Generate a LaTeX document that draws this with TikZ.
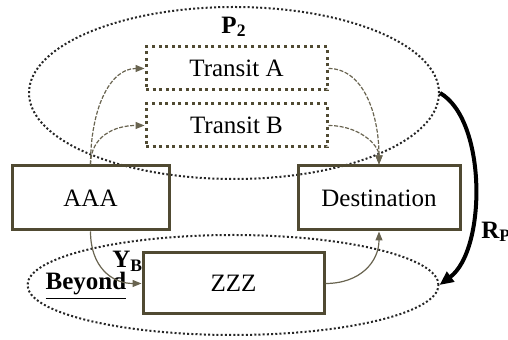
\documentclass[tikz,border=0pt]{standalone}
\usepackage{fontspec}
\setmainfont{Liberation Serif}
\usetikzlibrary{arrows.meta,shapes.geometric}
\definecolor{boxline}{RGB}{80,74,50}
\definecolor{linkc}{RGB}{105,100,80}
\begin{document}
\begin{tikzpicture}[x=0.5pt,y=-0.5pt,
  font=\fontsize{12.5}{15}\selectfont,
  box/.style={draw=boxline, line width=1.5pt, inner sep=0pt, minimum height=32pt},
  transit/.style={draw=boxline, line width=1.5pt, dash pattern=on 1.5pt off 1.8pt,
    minimum width=90.5pt, minimum height=21.5pt, inner sep=0pt},
  region/.style={ellipse, draw=black!85, line width=1pt, dash pattern=on 1pt off 1.1pt, inner sep=0pt},
  link/.style={draw=linkc, line width=0.6pt, -{Triangle[length=4.5pt,width=3.5pt]}},
  linkd/.style={link, dash pattern=on 2pt off 0.8pt},
  flow/.style={draw=black, line width=2pt, -{Triangle[length=7pt,width=6pt]}},
  lab/.style={inner sep=0pt, font=\fontsize{12.5}{15}\selectfont\bfseries}]
\useasboundingbox (0,0) rectangle (508,340);

% the two regions
\node[region, minimum width=205pt, minimum height=86pt] (top) at (234,93) {};
\node[region, minimum width=205.5pt, minimum height=50pt] (bot) at (233,285) {};

% boxes
\node[box, minimum width=78.5pt] (aaa) at (90.5,198) {AAA};
\node[box, minimum width=81pt] (dst) at (379,198) {Destination};
\node[box, minimum width=90.5pt, minimum height=30.5pt] (zzz) at (233.5,283.5) {ZZZ};
\node[transit] (ta) at (236.5,68.5) {Transit A};
\node[transit] (tb) at (236.5,125.5) {Transit B};

% labels
\node[lab] (p2) at (234,27) {P\textsubscript{2}};
\node[lab, anchor=base west] (yb) at (112,268) {Y\textsubscript{B}};
\node[lab, anchor=base] (beyond) at (86,290) {\underline{Beyond}};
\node[lab, anchor=west] (rp) at (481,232) {R\textsubscript{P}};

% connectors
\draw[linkd] (aaa.north) .. controls +(0,-55) and +(-35,0) .. (ta.west);
\draw[linkd] (aaa.north) .. controls +(0,-28) and +(-30,0) .. (tb.west);
\draw[linkd] (ta.east) .. controls +(35,0) and +(0,-50) .. (dst.north);
\draw[linkd] (tb.east) .. controls +(30,0) and +(0,-20) .. (dst.north);
\draw[link] (aaa.south) .. controls +(0,35) and +(-30,0) .. (zzz.west);
\draw[link] (zzz.east) .. controls +(35,0) and +(0,30) .. (dst.south);
\draw[flow] (top.east) .. controls +(47,27) and +(47,-35) .. (bot.east);
\end{tikzpicture}
\end{document}
